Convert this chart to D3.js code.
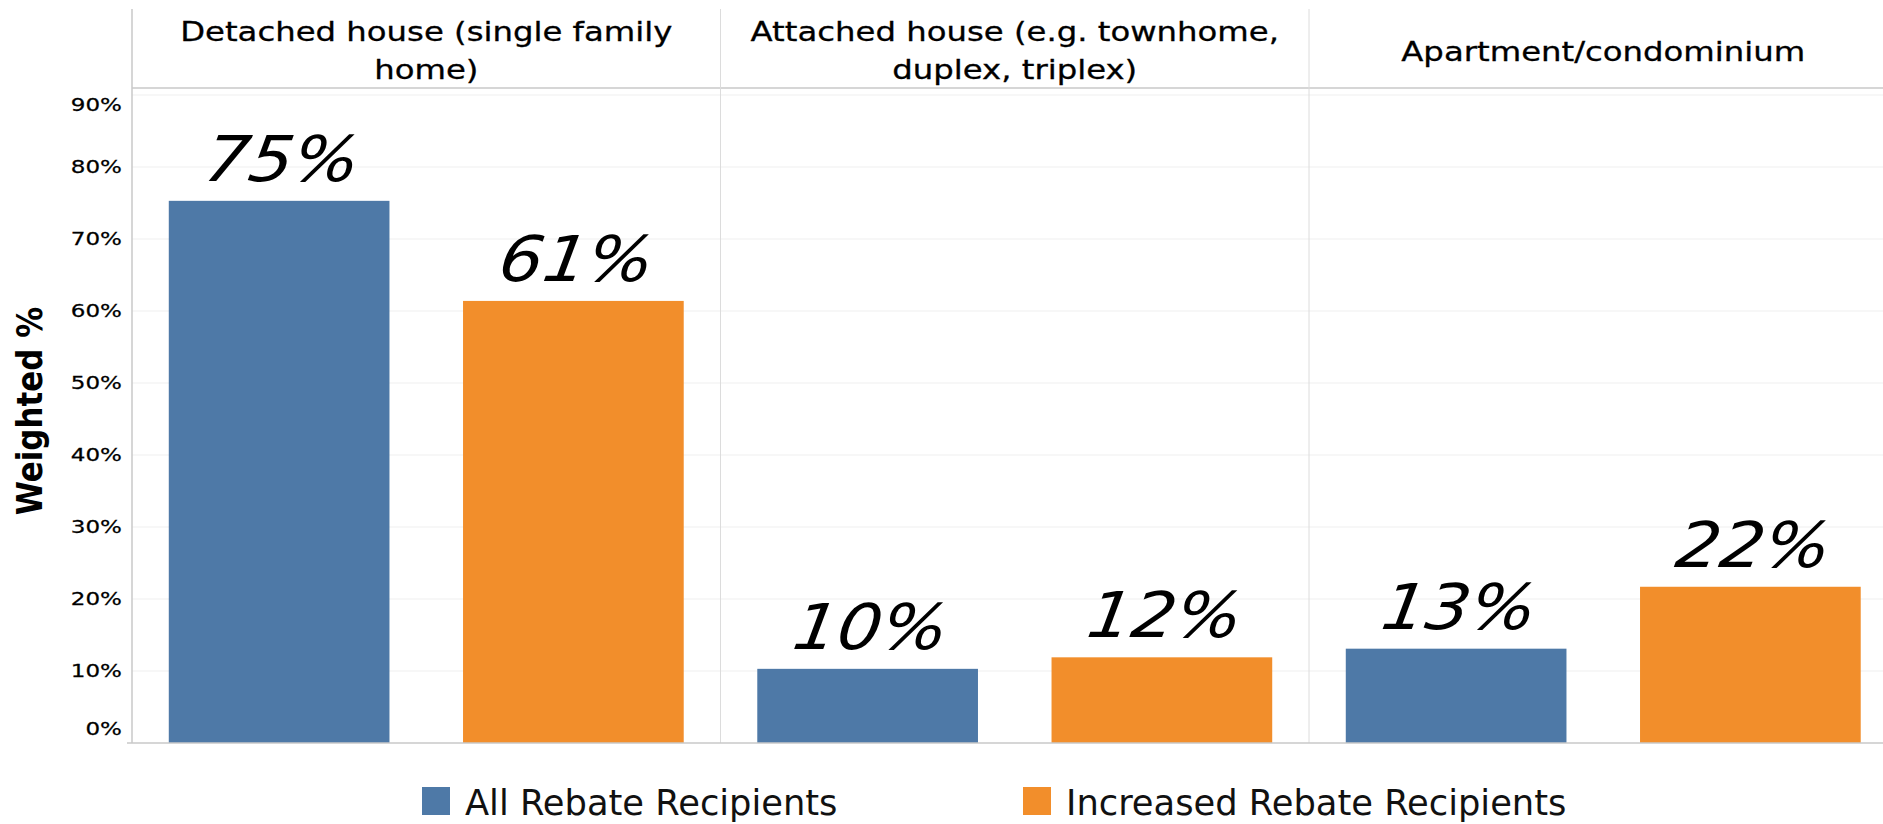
<!DOCTYPE html>
<html>
<head>
<meta charset="utf-8">
<script src="https://cdn.jsdelivr.net/npm/d3@7"></script>
<style>
  html, body { margin: 0; padding: 0; background: #fff; }
  svg { display: block; }
</style>
</head>
<body>
<svg id="chart" width="1883" height="824"></svg>
<script>
// ---- Data ----
const categories = ["Detached house (single family home)", "Attached house (e.g. townhome, duplex, triplex)", "Apartment/condominium"];
const headerLines = [["Detached house (single family", "home)"], ["Attached house (e.g. townhome,", "duplex, triplex)"], ["Apartment/condominium"]];
const seriesNames = ["All Rebate Recipients", "Increased Rebate Recipients"];
const allRebateValues = [75.3, 10.3, 13.1];
const increasedRebateValues = [61.4, 11.9, 21.7];
const yTicks = [0, 10, 20, 30, 40, 50, 60, 70, 80, 90];
const seriesColors = ["#4e79a7", "#f28e2b"];

// ---- Layout ----
const W = 1883, H = 824;
const plotLeft = 132, panelW = 588.5;
const headerTop = 9, headerBottom = 88;
const yTop = 95, yBottom = 743;
const font = "'DejaVu Sans', sans-serif";

const svg = d3.select("#chart");

const xOuter = d3.scaleBand().domain(categories).range([plotLeft, plotLeft + panelW * categories.length]).padding(0);
const xInner = d3.scaleBand().domain(seriesNames).range([0, panelW]).paddingInner(0.25).paddingOuter(0.125);
const y = d3.scaleLinear().domain([0, 90]).range([yBottom, yTop]);

// gridlines
svg.append("g").selectAll("line").data(yTicks.filter(d => d > 0)).join("line")
  .attr("x1", plotLeft).attr("x2", W)
  .attr("y1", d => y(d)).attr("y2", d => y(d))
  .attr("stroke", "#efefef").attr("stroke-width", 1);

// bars
const rows = categories.map((c, i) => ({ cat: c, vals: [allRebateValues[i], increasedRebateValues[i]] }));
const panels = svg.append("g").selectAll("g.panel").data(rows).join("g")
  .attr("class", "panel")
  .attr("transform", d => `translate(${xOuter(d.cat)},0)`);

panels.selectAll("rect").data(d => d.vals.map((v, j) => ({ v, s: seriesNames[j], j }))).join("rect")
  .attr("x", d => xInner(d.s))
  .attr("width", xInner.bandwidth())
  .attr("y", d => y(d.v))
  .attr("height", d => y(0) - y(d.v))
  .attr("fill", d => seriesColors[d.j]);

// value labels
panels.selectAll("text.val").data(d => d.vals.map((v, j) => ({ v, s: seriesNames[j], j }))).join("text")
  .attr("class", "val")
  .attr("transform", d => `translate(${xInner(d.s) + xInner.bandwidth() / 2},${y(d.v) - 20}) skewX(-9) scale(1.1,1)`)
  .attr("text-anchor", "middle")
  .attr("font-family", font)
  .attr("font-style", "italic")
  .attr("font-size", 63)
  .attr("fill", "#000")
  .text(d => Math.round(d.v) + "%");

// header lines & dividers
svg.append("line").attr("x1", plotLeft).attr("x2", W).attr("y1", headerBottom).attr("y2", headerBottom)
  .attr("stroke", "#c8c8c8").attr("stroke-width", 1.5);
svg.append("g").selectAll("line").data(categories).join("line")
  .attr("x1", d => xOuter(d)).attr("x2", d => xOuter(d))
  .attr("y1", headerTop).attr("y2", yBottom)
  .attr("stroke", (d, i) => i === 0 ? "#c8c8c8" : "#dcdcdc").attr("stroke-width", (d, i) => i === 0 ? 1.5 : 1);

// zero line
svg.append("line").attr("x1", plotLeft - 5).attr("x2", W).attr("y1", yBottom).attr("y2", yBottom)
  .attr("stroke", "#c8c8c8").attr("stroke-width", 1.5);

// header text
const hdr = svg.append("g").selectAll("g").data(categories).join("g")
  .attr("transform", d => `translate(${xOuter(d) + xOuter.bandwidth() / 2},0)`);
hdr.each(function (d, i) {
  const lines = headerLines[i];
  const baselines = lines.length === 2 ? [41, 79] : [61];
  d3.select(this).selectAll("text").data(lines).join("text")
    .attr("transform", (t, k) => `translate(0,${baselines[k]}) scale(1.22,1)`)
    .attr("text-anchor", "middle")
    .attr("font-family", font)
    .attr("font-size", 26.5)
    .attr("fill", "#000")
    .attr("stroke", "#000").attr("stroke-width", 0.3)
    .text(t => t);
});

// y axis
const yAxis = d3.axisLeft(y).tickValues(yTicks).tickSize(0).tickFormat(d => d + "%");
const ya = svg.append("g").attr("transform", `translate(${plotLeft},0)`).call(yAxis);
ya.select(".domain").remove();
ya.selectAll(".tick text")
  .attr("x", -10 / 1.28)
  .attr("dy", d => d === 0 ? "-0.5em" : d === 90 ? "0.85em" : "0.32em")
  .attr("transform", "scale(1.28,1)")
  .attr("font-family", font)
  .attr("font-size", 18)
  .attr("fill", "#000")
  .attr("stroke", "#000").attr("stroke-width", 0.25);

// y axis title
svg.append("text")
  .attr("transform", `translate(42,411) rotate(-90) scale(0.86,1)`)
  .attr("text-anchor", "middle")
  .attr("font-family", font)
  .attr("font-weight", "bold")
  .attr("font-size", 36)
  .attr("fill", "#000")
  .text("Weighted %");

// legend
const legendX = [422, 1023];
const lg = svg.append("g").selectAll("g").data(seriesNames).join("g")
  .attr("transform", (d, i) => `translate(${legendX[i]},787)`);
lg.append("rect").attr("width", 28).attr("height", 28).attr("fill", (d, i) => seriesColors[i]);
lg.append("text")
  .attr("transform", "translate(43,28) scale(0.98,1)")
  .attr("font-family", font)
  .attr("font-size", 36)
  .attr("fill", "#111")
  .text(d => d);
</script>
</body>
</html>
